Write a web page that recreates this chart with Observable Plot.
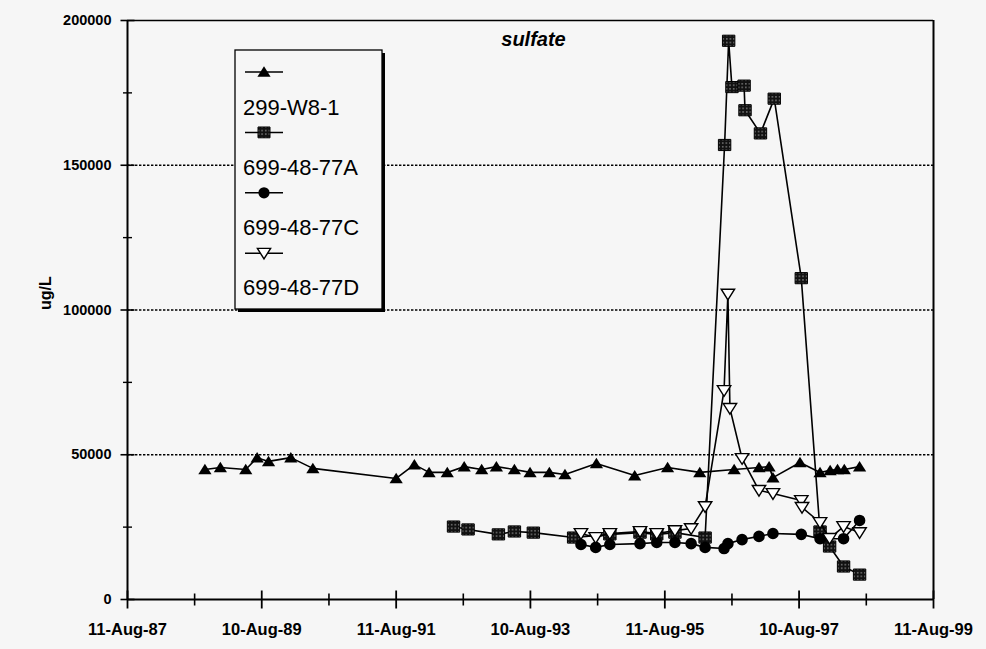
<!DOCTYPE html>
<html><head><meta charset="utf-8">
<script src="https://cdn.jsdelivr.net/npm/d3@7"></script>
<script src="https://cdn.jsdelivr.net/npm/@observablehq/plot@0.6"></script>
<style>
html,body{margin:0;padding:0;background:#f6f6f6;}
#chart{position:relative;width:986px;height:649px;}
</style></head><body>
<svg width="0" height="0" style="position:absolute"><defs>
<pattern id="sqpat" patternUnits="userSpaceOnUse" width="3.6" height="3.6"><rect width="3.6" height="3.6" fill="#111"/><rect x="1.2" y="1.2" width="1.1" height="1.1" fill="#d8d8d8"/></pattern></defs></svg>
<div id="chart"></div>
<script>
// ---------- data ----------
const chartTitle = "sulfate";
const yLabel = "ug/L";
const seriesNames = ["299-W8-1", "699-48-77A", "699-48-77C", "699-48-77D"];

const w81Dates = ["1988-10-05","1988-12-28","1989-05-15","1989-07-16","1989-09-16","1990-01-15","1990-05-15","1991-08-11","1991-11-18","1992-02-06","1992-05-15","1992-08-15","1992-11-18","1993-02-06","1993-05-15","1993-08-08","1993-11-21","1994-02-14","1994-08-04","1995-02-28","1995-08-26","1996-02-17","1996-08-22","1997-01-04","1997-02-28","1997-03-21","1997-08-15","1997-12-02","1998-01-26","1998-03-07","1998-04-13","1998-07-05"];
const w81Values = [44900,45600,44900,49000,47700,49000,45300,41800,46600,43900,43900,45900,44900,45900,44900,43900,43900,43200,47000,42800,45600,43900,44900,45600,45900,42100,47300,43900,44600,44900,44900,45900];

const a77Dates = ["1992-06-18","1992-09-05","1993-02-17","1993-05-15","1993-08-26","1994-04-02","1994-10-16","1995-03-29","1995-06-28","1995-10-05","1996-03-17","1996-07-01","1996-07-23","1996-08-10","1996-10-15","1996-10-20","1997-01-12","1997-03-28","1997-08-22","1997-12-02","1998-01-23","1998-04-09","1998-07-05"];
const a77Values = [25200,24200,22500,23500,23100,21400,22500,23100,22500,23100,21400,157000,193000,177000,177500,169000,161000,173000,111000,23500,18300,11400,8600];

const c77Dates = ["1994-05-12","1994-07-31","1994-10-16","1995-03-29","1995-06-28","1995-10-05","1996-01-01","1996-03-17","1996-06-28","1996-07-19","1996-10-04","1997-01-04","1997-03-21","1997-08-22","1997-12-02","1998-04-09","1998-07-05"];
const c77Values = [19000,18000,19000,19300,19700,19700,19300,18000,17600,19300,20700,21800,22800,22500,21000,21000,27300];

const d77Dates = ["1994-05-12","1994-07-31","1994-10-16","1995-03-29","1995-06-28","1995-10-05","1996-01-01","1996-03-17","1996-06-28","1996-07-19","1996-07-30","1996-10-04","1997-01-04","1997-03-21","1997-08-22","1997-08-26","1997-12-02","1998-01-23","1998-04-09","1998-07-05"];
const d77Values = [22800,21400,22800,23500,22800,23800,24500,32100,72200,105500,66000,48700,37700,36600,34200,31800,26600,21100,25200,23100];

const xTickDates = ["1987-08-11","1989-08-10","1991-08-11","1993-08-10","1995-08-11","1997-08-10","1999-08-11"];
const xTickLabels = ["11-Aug-87","10-Aug-89","11-Aug-91","10-Aug-93","11-Aug-95","10-Aug-97","11-Aug-99"];
const yTicks = [0, 50000, 100000, 150000, 200000];
const yMinorTicks = [25000, 75000, 125000, 175000];
const gridValues = [50000, 100000, 150000];

// ---------- build ----------
const parse = d3.utcParse("%Y-%m-%d");
const rows = (name, dates, values) => dates.map((d, i) => ({series: name, date: parse(d), value: values[i]}));
const w81 = rows(seriesNames[0], w81Dates, w81Values);
const a77 = rows(seriesNames[1], a77Dates, a77Values);
const c77 = rows(seriesNames[2], c77Dates, c77Values);
const d77 = rows(seriesNames[3], d77Dates, d77Values);

const xMajor = xTickDates.map(parse);
const xMinor = xMajor.slice(1).map((d, i) => new Date((+d + +xMajor[i]) / 2));
const labelOf = new Map(xMajor.map((d, i) => [+d, xTickLabels[i]]));
const xDomain = [xMajor[0], xMajor[xMajor.length - 1]];
const yDomain = [yTicks[0], yTicks[yTicks.length - 1]];

const rad = size => Math.sqrt(size / Math.PI);
const triUp = {draw(c, size) { const s = rad(size); c.moveTo(0, -s * 0.95); c.lineTo(s * 1.1, s * 0.8); c.lineTo(-s * 1.1, s * 0.8); c.closePath(); }};
const triDown = {draw(c, size) { const s = rad(size); c.moveTo(0, s * 0.95); c.lineTo(s * 1.1, -s * 0.8); c.lineTo(-s * 1.1, -s * 0.8); c.closePath(); }};
const square = {draw(c, size) { const s = rad(size); c.rect(-s, -s * 0.9, 2 * s, 1.8 * s); }};
const circle = {draw(c, size) { const s = rad(size); c.moveTo(s, 0); c.arc(0, 0, s, 0, 2 * Math.PI); c.closePath(); }};
const hTick = {draw(c, size) { const s = rad(size); c.moveTo(-s, 0); c.lineTo(s, 0); }};
const vTick = {draw(c, size) { const s = rad(size); c.moveTo(0, -s); c.lineTo(0, s); }};

const lineOpts = {x: "date", y: "value", stroke: "#000", strokeWidth: 1.6};
const bg = "#f6f6f6";
const fontFamily = "'Liberation Sans', Arial, sans-serif";

const svg = Plot.plot({
  width: 986, height: 649,
  marginLeft: 127, marginRight: 53, marginTop: 20, marginBottom: 50,
  style: {background: bg, fontFamily, fontSize: "14.5px", fontWeight: "bold", color: "#000"},
  x: {type: "utc", domain: xDomain},
  y: {domain: yDomain},
  marks: [
    Plot.ruleY(gridValues, {stroke: "#000", strokeWidth: 1.3, strokeDasharray: "2.4,1.6"}),
    Plot.ruleY([yDomain[1]], {stroke: "#000", strokeWidth: 1.7}),
    Plot.ruleX([xDomain[1]], {stroke: "#000", strokeWidth: 2}),
    Plot.ruleX([xDomain[0]], {stroke: "#000", strokeWidth: 2}),
    Plot.ruleY([yDomain[0]], {stroke: "#000", strokeWidth: 2}),
    Plot.dot(yTicks, {x: () => xDomain[0], y: d => d, symbol: hTick, r: 7, stroke: "#000", strokeWidth: 1.6, fill: "none"}),
    Plot.dot(yMinorTicks, {x: () => xDomain[0], y: d => d, symbol: hTick, r: 4.5, stroke: "#000", strokeWidth: 1.4, fill: "none"}),
    Plot.dot(xMajor, {x: d => d, y: () => yDomain[0], symbol: vTick, r: 9, stroke: "#000", strokeWidth: 1.8, fill: "none"}),
    Plot.dot(xMinor, {x: d => d, y: () => yDomain[0], symbol: vTick, r: 6, stroke: "#000", strokeWidth: 1.6, fill: "none"}),
    Plot.axisY({ticks: yTicks, tickSize: 0, tickPadding: 16, tickFormat: d => String(d), label: null}),
    Plot.axisX({ticks: xMajor, tickSize: 0, tickPadding: 24, tickFormat: d => labelOf.get(+d), label: null}),
    Plot.text([yLabel], {frameAnchor: "left", dx: -82, rotate: -90, text: d => d, fontSize: 16, fontWeight: "bold"}),
    Plot.text([chartTitle], {frameAnchor: "top", dx: 3, dy: 19, lineAnchor: "middle", text: d => d, fontSize: 20, fontWeight: "bold", fontStyle: "italic"}),
    Plot.line(w81, lineOpts),
    Plot.dot(w81, {x: "date", y: "value", symbol: triUp, r: 6, fill: "#000", stroke: "none"}),
    Plot.line(a77, lineOpts),
    Plot.dot(a77, {x: "date", y: "value", symbol: square, r: 6.2, fill: "url(#sqpat)", stroke: "#000", strokeWidth: 1}),
    Plot.line(c77, lineOpts),
    Plot.dot(c77, {x: "date", y: "value", symbol: circle, r: 5.8, fill: "#000", stroke: "none"}),
    Plot.line(d77, lineOpts),
    Plot.dot(d77, {x: "date", y: "value", symbol: triDown, r: 6.1, fill: "#fff", stroke: "#000", strokeWidth: 1.4})
  ]
});
document.getElementById("chart").appendChild(svg);

// x tick labels are a touch larger than the y tick labels
const xLabelSet = new Set(xTickLabels);
d3.select(svg).selectAll("text").filter(function() { return xLabelSet.has(this.textContent); }).style("font-size", "16.5px");

// ---------- legend (inside plot area, as in the original) ----------
const lg = d3.select(svg).append("g").attr("class", "legend").attr("text-anchor", "start").style("font-weight", "normal");
const box = {x: 235, y: 50, w: 147, h: 259};
lg.append("rect").attr("x", box.x + 3).attr("y", box.y + 3).attr("width", box.w).attr("height", box.h).attr("fill", "#000");
lg.append("rect").attr("x", box.x).attr("y", box.y).attr("width", box.w).attr("height", box.h).attr("fill", bg).attr("stroke", "#000").attr("stroke-width", 1.3);
const legSyms = [
  {sym: triUp, r: 6, fill: "#000", stroke: "none", sw: 0},
  {sym: square, r: 6, fill: "url(#sqpat)", stroke: "#000", sw: 1},
  {sym: circle, r: 5.6, fill: "#000", stroke: "none", sw: 0},
  {sym: triDown, r: 6, fill: "#fff", stroke: "#000", sw: 1.4}
];
seriesNames.forEach((name, i) => {
  const sy = 72 + i * 60.4, ty = 107 + i * 60.2;
  lg.append("line").attr("x1", 245).attr("x2", 283).attr("y1", sy).attr("y2", sy).attr("stroke", "#000").attr("stroke-width", 1.5);
  const p = d3.path(); legSyms[i].sym.draw(p, Math.PI * legSyms[i].r ** 2);
  lg.append("path").attr("d", p.toString()).attr("transform", `translate(264,${sy})`)
    .attr("fill", legSyms[i].fill).attr("stroke", legSyms[i].stroke).attr("stroke-width", legSyms[i].sw);
  lg.append("text").attr("x", 243).attr("y", ty).attr("dy", "0.35em").style("font-size", "22px").style("font-weight", "normal")
    .attr("text-anchor", "start").attr("font-family", fontFamily).attr("fill", "#000").text(name);
});
</script>
</body></html>
